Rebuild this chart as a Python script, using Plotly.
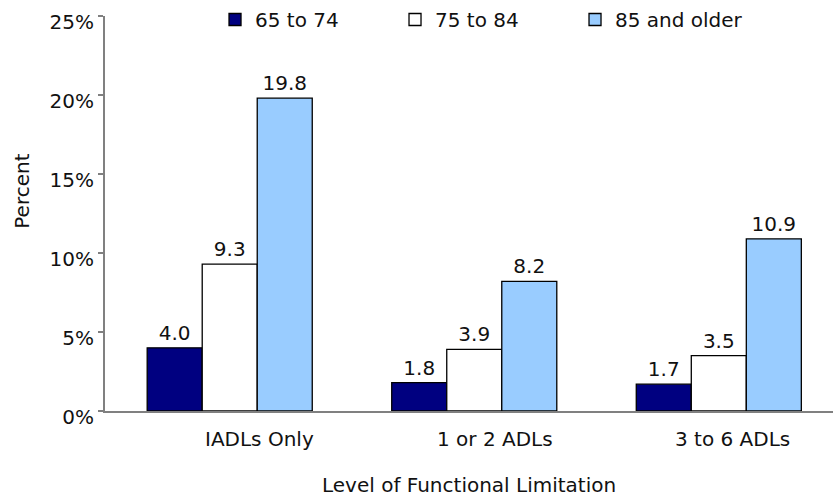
import plotly.graph_objects as go

categories = ["IADLs Only", "1 or 2 ADLs", "3 to 6 ADLs"]
series_names = ["65 to 74", "75 to 84", "85 and older"]
values_65_74 = [4.0, 1.8, 1.7]
values_75_84 = [9.3, 3.9, 3.5]
values_85_up = [19.8, 8.2, 10.9]
y_tickvals = [0, 5, 10, 15, 20, 25]
y_ticktext = ["0%", "5%", "10%", "15%", "20%", "25%"]

colors = ["#000080", "#FFFFFF", "#99CCFF"]
label_xshift = [30, 21, 14]
FONT = "DejaVu Sans"
FS = 20
TXT = "#111111"

fig = go.Figure()
for name, vals, col in zip(series_names, [values_65_74, values_75_84, values_85_up], colors):
    fig.add_trace(go.Bar(
        x=list(range(len(categories))), y=vals, name=name,
        marker=dict(color=col, line=dict(color="#000000", width=1.3)),
        text=[f"{v:.1f}" for v in vals], textposition="outside",
        textfont=dict(family=FONT, size=FS, color=TXT),
        cliponaxis=False,
    ))

for i, (cat, sh) in enumerate(zip(categories, label_xshift)):
    fig.add_annotation(x=i, y=0, xref="x", yref="y", text=cat, showarrow=False,
                       yanchor="top", yshift=-14, xshift=sh,
                       font=dict(family=FONT, size=FS, color=TXT))

fig.add_annotation(x=0.5, y=0, xref="paper", yref="paper", text="Level of Functional Limitation",
                   showarrow=False, yanchor="middle", yshift=-74,
                   font=dict(family=FONT, size=FS, color=TXT))
fig.add_annotation(x=0, y=0.555, xref="paper", yref="paper", text="Percent", textangle=-90,
                   showarrow=False, xanchor="center", xshift=-83,
                   font=dict(family=FONT, size=FS, color=TXT))

fig.update_layout(
    width=833, height=498,
    margin=dict(l=105, r=0, t=15, b=87),
    paper_bgcolor="white", plot_bgcolor="white",
    barmode="group", bargap=0.325, bargroupgap=0,
    font=dict(family=FONT, size=FS, color=TXT),
    showlegend=True,
    legend=dict(orientation="h", x=0.522, xanchor="center", y=0.99, yanchor="middle",
                entrywidth=135, entrywidthmode="pixels",
                font=dict(family=FONT, size=FS, color=TXT), bgcolor="rgba(0,0,0,0)"),
    xaxis=dict(range=[-0.51, 2.467], showticklabels=False, showgrid=False, zeroline=False,
               showline=True, linecolor="#808080", linewidth=2, ticks=""),
    yaxis=dict(range=[0, 25], tickvals=y_tickvals, ticktext=y_ticktext, showgrid=False,
               zeroline=False, showline=True, linecolor="#808080", linewidth=2,
               ticks="outside", ticklen=5, tickcolor="#808080", tickwidth=1.5,
               tickfont=dict(family=FONT, size=FS, color=TXT), ticklabelshift=6),
)

fig.write_html("out.html", config={"displayModeBar": False},
               post_script="document.body.style.margin='0';")
